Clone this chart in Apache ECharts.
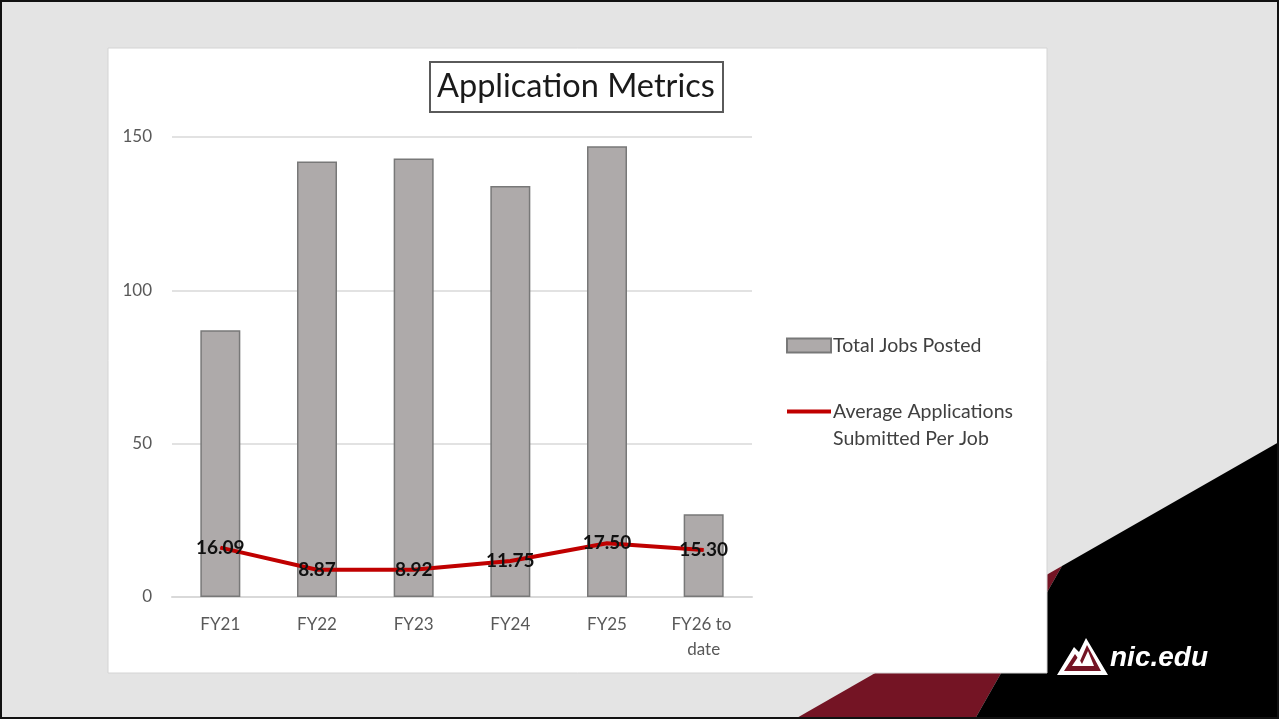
<!DOCTYPE html>
<html lang="en">
<head>
    <meta charset="UTF-8">
    <title>Application Metrics</title>
    <style>
        html, body { margin: 0; padding: 0; background: #e4e4e4; }
        #wrap { position: relative; width: 1279px; height: 719px; }
        #main { width: 1279px; height: 719px; }
        #frame { position: absolute; left: 0; top: 0; width: 1279px; height: 719px; box-sizing: border-box; border: 2px solid #111; pointer-events: none; }
    </style>
</head>
<body>
    <div id="wrap">
        <div id="main"></div>
        <div id="frame"></div>
    </div>
    <script src="https://cdn.jsdelivr.net/npm/echarts@6/dist/echarts.min.js"></script>
    <script>
        // data
        var categories = ['FY21', 'FY22', 'FY23', 'FY24', 'FY25', 'FY26 to date'];
        var jobsPosted = [87, 142, 143, 134, 147, 27];
        var avgApplications = [16.09, 8.87, 8.92, 11.75, 17.50, 15.30];
        var yTicks = { min: 0, max: 150, interval: 50 };

        var barName = 'Total Jobs Posted';
        var lineName = 'Average Applications\nSubmitted Per Job';

        var myChart = echarts.init(document.getElementById('main'));
        var font = 'Lato, "Open Sans", sans-serif';

        var option = {
            backgroundColor: '#e4e4e4',
            animation: false,
            textStyle: { fontFamily: font },
            title: {
                text: 'Application Metrics',
                left: 430,
                top: 62,
                borderWidth: 2,
                borderColor: '#5a5a5a',
                padding: [6, 8, 6, 7],
                textStyle: { fontSize: 32.5, lineHeight: 38, fontWeight: 'normal', color: '#1a1a1a', fontFamily: font }
            },
            legend: {
                orient: 'vertical',
                left: 786,
                top: 332,
                padding: 0,
                itemWidth: 44,
                itemHeight: 14,
                itemGap: 12,
                textStyle: { fontSize: 19.5, color: '#404040', padding: [0, 0, 0, -3], lineHeight: 27, fontFamily: font },
                // leading blank line keeps the red stroke level with the first text line
                formatter: function (name) { return name === lineName ? '\n' + name : name; },
                data: [
                    { name: barName, icon: 'rect' },
                    { name: lineName, icon: 'path://M0,0 L44,0 L44,4 L0,4 Z' }
                ]
            },
            grid: { left: 172, right: 527, top: 137, bottom: 122 },
            xAxis: {
                type: 'category',
                data: categories,
                axisLine: { lineStyle: { color: '#d9d9d9', width: 2 } },
                axisTick: { show: false },
                axisLabel: {
                    interval: 0,
                    color: '#595959', fontSize: 17, margin: 15, lineHeight: 25,
                    width: 70, overflow: 'break', fontFamily: font
                }
            },
            yAxis: {
                type: 'value',
                min: yTicks.min,
                max: yTicks.max,
                interval: yTicks.interval,
                axisLine: { show: false },
                axisTick: { show: false },
                axisLabel: { color: '#595959', fontSize: 17, margin: 20, fontFamily: font },
                splitLine: { lineStyle: { color: '#d9d9d9', width: 1.5 } }
            },
            series: [
                {
                    name: barName,
                    type: 'bar',
                    data: jobsPosted,
                    barWidth: 40,
                    itemStyle: { color: '#aeaaaa', borderColor: '#787878', borderWidth: 1.5 }
                },
                {
                    name: lineName,
                    type: 'line',
                    data: avgApplications,
                    symbol: 'circle',
                    symbolSize: 1,
                    lineStyle: { color: '#c00000', width: 4 },
                    itemStyle: { color: '#c00000' },
                    label: {
                        show: true,
                        position: 'inside',
                        color: '#111',
                        fontWeight: 'bold',
                        fontSize: 19,
                        fontFamily: font,
                        formatter: function (p) { return p.value.toFixed(2); }
                    },
                    z: 5
                }
            ],
            graphic: {
                elements: [
                    // slide decoration
                    { type: 'polygon', z: -20, shape: { points: [[795, 719], [1062, 566], [975, 719]] }, style: { fill: '#741424' } },
                    { type: 'polygon', z: -20, shape: { points: [[1062, 566], [1279, 442], [1279, 719], [975, 719]] }, style: { fill: '#000' } },
                    { type: 'rect', z: -10, shape: { x: 108, y: 48, width: 939, height: 625 }, style: { fill: '#fff', stroke: '#d4d4d4', lineWidth: 1 } },
                    // logo
                    { type: 'polygon', z: -5, shape: { points: [[1057, 675], [1074, 647], [1079, 652], [1086, 638], [1108, 675]] }, style: { fill: '#fff' } },
                    { type: 'polygon', z: -4, shape: { points: [[1064, 671], [1075, 654], [1080, 661], [1087, 645], [1101, 671]] }, style: { fill: '#741424' } },
                    { type: 'polygon', z: -3, shape: { points: [[1072, 666], [1078, 657], [1082, 664], [1088, 651], [1094, 666]] }, style: { fill: '#fff' } },
                    {
                        type: 'text', z: -3, left: 1110, top: 644,
                        style: { text: 'nic.edu', fill: '#fff', font: 'italic bold 28px "Liberation Sans", sans-serif' }
                    }
                ]
            }
        };

        myChart.setOption(option);
    </script>
</body>
</html>
